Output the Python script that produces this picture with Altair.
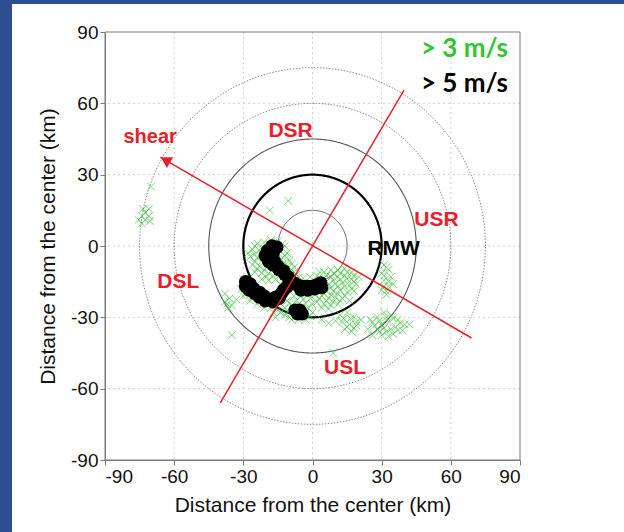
import altair as alt
import numpy as np
import pandas as pd

# ---------------- data ----------------
tick_values = [-90, -60, -30, 0, 30, 60, 90]
grid_values = [-60, -30, 0, 30, 60]

# range rings (km); the 30 km ring is the RMW
ring_radii = [15, 30, 45, 60, 75]
ring_colors = ["#555555", "#000000", "#555555", "#8a8a8a", "#8a8a8a"]
ring_widths = [1.0, 2.2, 1.1, 1.0, 1.0]
ring_dashes = [[1, 0], [1, 0], [1, 0], [1.5, 1.5], [1.5, 1.5]]

# shear axis and its perpendicular (km)
shear_x = [69.0, -66.0]
shear_y = [-38.7, 37.4]
perp_x = [-40.0, 39.7]
perp_y = [-66.0, 65.6]

# > 3 m/s points (km)
green_pts = [
    (-70, 25), (-74, 9.5), (-72.5, 11), (-71, 12.5), (-74, 12.5), (-72.5, 14), (-71, 15.5),
    (-73.5, 15.5), (-70.5, 10.5), (-75.5, 11),
    (-10.5, 19), (-18.5, 15), (9, -45), (-35, -37.5),
    (-24, 1), (-21, 1.5), (-18, 2.5), (-15, 2), (-12, 0), (-26, -1.5), (-23, -2), (-14, -2),
    (-11, -3), (-27, -4.5), (-24, -5), (-13, -5), (-10, -6), (-26, -8), (-23, -8.5), (-20, -9),
    (-11, -8.5), (-8, -9), (-25, -11), (-22, -11.5), (-19, -11.5), (-8, -11), (-6, -13),
    (-22, -14), (-19, -14.5), (-16, -14), (-14, -16),
    (-25, 0), (-22, -0.5), (-19, 0.5), (-13, 1), (-28, -3), (-25, -3.5), (-12, -4),
    (-25, -6.5), (-22, -6.5), (-12, -7), (-9, -7.5), (-24, -9.5), (-21, -10), (-9, -10),
    (-7, -12), (-20, -13), (-17, -12.5),
    (-4, -13.5), (-1, -13), (2, -12.5), (5, -11), (8, -10), (11, -10), (14, -9.5), (17, -11),
    (5, -14), (8, -13), (11, -13), (14, -12.5), (17, -14), (20, -13), (7, -16), (10, -16),
    (13, -15.5), (16, -16.5), (19, -16), (6, -19), (9, -19), (12, -18.5), (15, -19.5), (18, -19),
    (4, -21), (7, -22), (10, -21.5), (13, -22), (16, -23), (2, -23.5), (5, -24.5), (8, -25),
    (11, -24.5),
    (3, -11), (6, -12.5), (9, -11.5), (12, -11.5), (15, -11), (18, -12.5), (6, -15), (9, -14.5),
    (12, -14), (15, -14), (18, -15), (8, -17.5), (11, -17), (14, -17), (17, -18), (5, -20),
    (8, -20.5), (11, -20), (14, -21), (3, -22), (6, -23), (9, -23.5), (12, -23), (4, -26),
    (7, -26.5),
    (31, -8), (33, -10), (30, -11.5), (34, -13), (31, -14.5), (33, -17), (30, -18.5),
    (32, -20.5), (35, -16), (32, -9), (31, -12.5), (33, -15), (31, -17), (32, -19),
    (-2, -20), (1, -20.5), (-5, -21), (-8, -21), (-11, -23), (-9, -25), (-6, -24.5), (-3, -24),
    (0, -24.5), (-12, -26), (-9, -28), (-3, -28), (0, -28), (-12, -29), (-9, -31), (-6, -31),
    (-3, -31), (-15, -27), (-18, -26), (-21, -26), (-24, -24.5), (-27, -23), (-30, -21),
    (-31, -18), (-30, -14), (-16, -30),
    (-4, -22.5), (-1, -22), (-7, -23), (-10, -24), (-2, -26), (-5, -26.5), (-8, -26.5),
    (-11, -27.5), (-7, -29.5), (-4, -29.5), (-1, -29.5), (-14, -28), (-17, -28), (-20, -24.5),
    (-23, -23), (-26, -21.5), (-29, -20), (-10, -30),
    (-38, -20), (-36, -22), (-38, -23.5), (-35, -25), (-33, -22.5), (-36.5, -26), (-37, -24.5),
    (4, -31), (7, -32.5), (10, -31.5),
    (12, -29), (15, -28), (18, -30), (13, -32), (16, -33), (19, -33.5), (21, -31), (17, -36),
    (14, -35), (13.5, -30.5), (16.5, -30.5), (19, -32), (15, -34), (18, -34.5),
    (25, -31), (28, -30), (31, -28), (34, -29), (37, -31), (40, -33), (27, -33.5), (30, -33),
    (33, -32), (36, -34), (39, -35.5), (29, -36), (32, -36), (35, -37), (42, -33), (26, -37.5),
    (26, -32), (29, -31.5), (32, -30), (35, -30.5), (38, -32.5), (28, -35), (31, -34.5),
    (34, -35), (37, -35.5), (30, -37.5), (33, -38), (24, -35),
]

# > 5 m/s points (km)
black_pts = [
    (-17.5, 0), (-15.5, -0.5), (-19.5, -2), (-17, -2.5), (-20.5, -4), (-18.5, -4.5), (-19, -6.5),
    (-16.5, -6.5), (-17, -8), (-15, -8.5), (-14.5, -10), (-12.5, -10.5), (-12, -12),
    (-10.5, -13), (-9.5, -14.5), (-8, -15.5),
    (-6.5, -16.5), (-4.5, -17), (-2.5, -17), (-0.5, -17), (1.5, -16.5), (3.5, -15.5), (4, -17.5),
    (-5, -18.5), (-2, -18.5), (1, -18),
    (-29, -15), (-29, -17), (-27, -16), (-27.5, -18.5), (-25.5, -18), (-25, -20), (-23, -19.5),
    (-23, -21.5), (-21, -21), (-20.5, -23), (-18.5, -22.5), (-17, -23.5), (-16, -21.5),
    (-14.5, -22), (-13.5, -20), (-12.5, -18.5), (-11, -17),
    (-7.5, -27), (-5.5, -27), (-6.5, -28.5), (-4.5, -28.5),
]

# annotations (km)
quad_labels = ["DSR", "USR", "DSL", "USL"]
quad_x = [-9.5, 53.8, -58.2, 14.1]
quad_y = [45.7, 8.4, -17.8, -54.0]
legend_labels = ["> 3 m/s", "> 5 m/s"]
legend_colors = ["#33c433", "#000000"]
legend_x = [84.8, 84.8]
legend_y = [79.6, 64.9]

# ---------------- chart ----------------
W, H = 415, 428
RED = "#e8202a"
FONT = "Liberation Sans"

xs = alt.Scale(domain=[-90, 90], nice=False, zero=False)
ys = alt.Scale(domain=[-90, 90], nice=False, zero=False)
title = "Distance from the center (km)"
lbl = "'' + datum.value"
xaxis = alt.Axis(values=tick_values, title=title, grid=False, zindex=1, labelExpr=lbl)
yaxis = alt.Axis(values=tick_values, title=title, grid=False, zindex=1, labelExpr=lbl)


def X(f="x"):
    return alt.X(f"{f}:Q", scale=xs, axis=xaxis)


def Y(f="y"):
    return alt.Y(f"{f}:Q", scale=ys, axis=yaxis)


one = pd.DataFrame({"a": [0]})
bg = alt.Chart(one).mark_rect(color="white").encode(
    x=alt.value(-93), x2=alt.value(W + 104), y=alt.value(-28), y2=alt.value(H + 72)
)

gdf = pd.DataFrame({"g": grid_values})
vgrid = alt.Chart(gdf).mark_rule(color="#cfcfcf", strokeDash=[2, 3], strokeWidth=1).encode(
    x=alt.X("g:Q", scale=xs, axis=xaxis)
)
hgrid = alt.Chart(gdf).mark_rule(color="#cfcfcf", strokeDash=[2, 3], strokeWidth=1).encode(
    y=alt.Y("g:Q", scale=ys, axis=yaxis)
)

frame = alt.Chart(one).mark_rect(fillOpacity=0, stroke="#7a7a7a", strokeWidth=1).encode(
    x=alt.value(0), x2=alt.value(W), y=alt.value(0), y2=alt.value(H)
)

theta = np.linspace(0, 2 * np.pi, 241)
ring_layers = []
for r, c, w, d in zip(ring_radii, ring_colors, ring_widths, ring_dashes):
    rdf = pd.DataFrame({"x": r * np.cos(theta), "y": r * np.sin(theta), "o": np.arange(len(theta))})
    ring_layers.append(
        alt.Chart(rdf).mark_line(color=c, strokeWidth=w, strokeDash=d).encode(
            x=X(), y=Y(), order="o:Q"
        )
    )

green_df = pd.DataFrame(green_pts, columns=["x", "y"])
xshape = "M-1,-1L1,1M-1,1L1,-1"
green = alt.Chart(green_df).mark_point(
    shape=xshape, filled=False, color="#3cc43c", size=60, strokeWidth=0.8, opacity=0.85
).encode(x=X(), y=Y())

black_df = pd.DataFrame(black_pts, columns=["x", "y"])
black = alt.Chart(black_df).mark_circle(color="black", size=180, opacity=1).encode(x=X(), y=Y())

shear_df = pd.DataFrame({"x": shear_x, "y": shear_y, "o": [0, 1]})
shear = alt.Chart(shear_df).mark_line(color=RED, strokeWidth=1.5).encode(x=X(), y=Y(), order="o:Q")
perp_df = pd.DataFrame({"x": perp_x, "y": perp_y, "o": [0, 1]})
perp = alt.Chart(perp_df).mark_line(color=RED, strokeWidth=1.5).encode(x=X(), y=Y(), order="o:Q")

arrow_df = pd.DataFrame({"x": [shear_x[1] + 2.2], "y": [shear_y[1] - 1.2]})
arrow = alt.Chart(arrow_df).mark_point(
    shape="triangle-left", filled=True, color=RED, size=150, angle=30, opacity=1
).encode(x=X(), y=Y())

quad_df = pd.DataFrame({"t": quad_labels, "x": quad_x, "y": quad_y})
quad = alt.Chart(quad_df).mark_text(
    color=RED, font=FONT, fontSize=21, fontWeight="bold", align="center", baseline="alphabetic"
).encode(x=X(), y=Y(), text="t:N")

shear_lbl = alt.Chart(pd.DataFrame({"t": ["shear"], "x": [-70.4], "y": [43.2]})).mark_text(
    color=RED, font=FONT, fontSize=20, fontWeight="bold", align="center", baseline="alphabetic"
).encode(x=X(), y=Y(), text="t:N")

rmw_lbl = alt.Chart(pd.DataFrame({"t": ["RMW"], "x": [35.2], "y": [-3.8]})).mark_text(
    color="black", font=FONT, fontSize=21, fontWeight="bold", align="center", baseline="alphabetic"
).encode(x=X(), y=Y(), text="t:N")

leg_df = pd.DataFrame({"t": legend_labels, "x": legend_x, "y": legend_y, "c": legend_colors})
leg = alt.Chart(leg_df).mark_text(
    font="Lato", fontSize=26, fontWeight="bold", align="right", baseline="alphabetic"
).encode(x=X(), y=Y(), text="t:N", color=alt.Color("c:N", scale=None))

chart = alt.layer(
    bg, vgrid, hgrid, *ring_layers, green, black, shear, perp, arrow,
    quad, shear_lbl, rmw_lbl, leg, frame
).properties(
    width=W, height=H,
    autosize=alt.AutoSizeParams(type="none"),
    padding={"left": 105, "top": 32, "right": 104, "bottom": 72},
    background="#2c4d92",
).configure_view(strokeWidth=0).configure_axis(
    labelFont=FONT, titleFont=FONT, labelFontSize=19, titleFontSize=21,
    titleFontWeight="normal", labelColor="#111111", titleColor="#111111",
    tickColor="#7a7a7a", domainColor="#7a7a7a", tickSize=5, labelPadding=2,
).configure_axisY(titlePadding=12).configure_axisX(titlePadding=8)

chart.save("out.html", embed_options={"renderer": "svg", "actions": False})
